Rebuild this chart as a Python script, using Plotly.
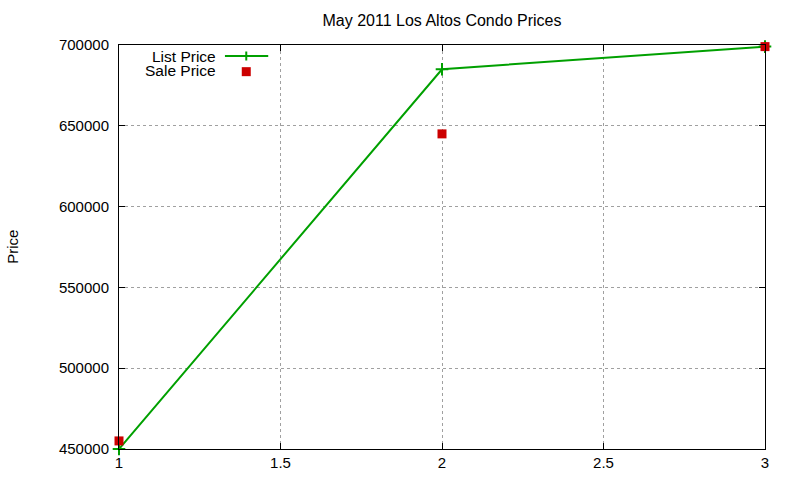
import plotly.graph_objects as go

# data
months = [1, 2, 3]
list_price = [450000, 685000, 699000]
sale_price = [455000, 645000, 699000]

green = "#00a000"
red = "#cc0000"
font = "Liberation Sans, Arial, sans-serif"

fig = go.Figure()

fig.add_trace(go.Scatter(
    x=months, y=list_price, mode="lines+markers", name="List Price",
    line=dict(color=green, width=2),
    marker=dict(symbol="cross-thin", size=9, line=dict(color=green, width=2)),
    cliponaxis=False, showlegend=False,
))
fig.add_trace(go.Scatter(
    x=months, y=sale_price, mode="markers", name="Sale Price",
    marker=dict(symbol="square", size=9, color=red),
    cliponaxis=False, showlegend=False,
))

# gnuplot-like key in the top-left corner: text right aligned, sample to the right
key_x_text = 0.152
key_x_sample = (0.164, 0.231)
key_x_mark = 0.197
key_text_y = (0.974, 0.939)
key_mark_y = (0.973, 0.934)

for label, ky in zip(["List Price", "Sale Price"], key_text_y):
    fig.add_annotation(text=label, x=key_x_text, y=ky, xref="paper", yref="paper",
                       xanchor="right", yanchor="middle", showarrow=False,
                       height=14, borderpad=0, font=dict(size=15.5))
fig.add_shape(type="line", xref="paper", yref="paper",
              x0=key_x_sample[0], x1=key_x_sample[1], y0=key_mark_y[0], y1=key_mark_y[0],
              line=dict(color=green, width=2))
fig.add_shape(type="path", xref="paper", yref="paper", xsizemode="pixel", ysizemode="pixel",
              xanchor=key_x_mark, yanchor=key_mark_y[0], path="M-4.5,0 L4.5,0 M0,-4.5 L0,4.5",
              line=dict(color=green, width=2))
fig.add_shape(type="rect", xref="paper", yref="paper", xsizemode="pixel", ysizemode="pixel",
              xanchor=key_x_mark, yanchor=key_mark_y[1], x0=-4.5, x1=4.5, y0=-4.5, y1=4.5,
              fillcolor=red, line=dict(width=0))

# y axis label, rotated, far left
fig.add_annotation(text="Price", x=-0.166, y=0.5, xref="paper", yref="paper",
                   textangle=-90, showarrow=False, xanchor="center", yanchor="middle")

axis_common = dict(
    showline=True, linecolor="black", linewidth=1, mirror="allticks",
    ticks="inside", ticklen=6, tickcolor="black", automargin=False,
    showgrid=True, gridcolor="#a0a0a0", gridwidth=1, griddash="dot",
    zeroline=False, tickfont=dict(size=15, color="black"),
)

fig.update_layout(
    width=800, height=480,
    margin=dict(l=119, r=35, t=45, b=31),
    paper_bgcolor="white", plot_bgcolor="white",
    font=dict(family=font, size=15, color="black"),
    title=dict(text="May 2011 Los Altos Condo Prices", x=0.5, xref="paper",
               y=0.958, yanchor="middle", font=dict(size=16)),
    xaxis=dict(range=[1, 3], tickvals=[1, 1.5, 2, 2.5, 3], **axis_common),
    yaxis=dict(range=[450000, 700000], tickformat="d", dtick=50000, ticklabelstandoff=6,
               **axis_common),
)

# drop the page's default body margin so the figure sits at the window's corner
fig.write_html("out.html", config={"displayModeBar": False},
               post_script="document.body.style.margin='0';")
